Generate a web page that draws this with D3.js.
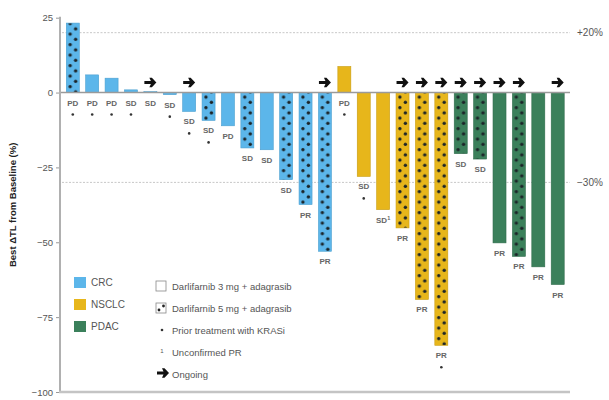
<!DOCTYPE html>
<html>
<head>
<meta charset="utf-8">
<script src="https://cdn.jsdelivr.net/npm/d3@7"></script>
<style>
  body { margin: 0; background: #fff; }
  svg { font-family: "Liberation Sans", Arial, sans-serif; }
</style>
</head>
<body>
<div id="chart"></div>
<script>
// one entry per patient, left to right
var values   = [23.2, 5.9, 4.8, 0.9, 0.3, -0.7, -6.3, -9.3, -11.1, -18.5, -19.1, -29.1, -37.4, -53.0,
                8.7, -28.0, -39.1, -45.2, -69.1, -84.4,
                -20.4, -22.2, -50.2, -54.7, -58.2, -64.1];
var tumor    = ["CRC","CRC","CRC","CRC","CRC","CRC","CRC","CRC","CRC","CRC","CRC","CRC","CRC","CRC",
                "NSCLC","NSCLC","NSCLC","NSCLC","NSCLC","NSCLC",
                "PDAC","PDAC","PDAC","PDAC","PDAC","PDAC"];
var dose     = [5,3,3,3,3,3,3,5,3,5,3,5,5,5, 3,3,3,5,5,5, 5,5,3,5,3,3];
var response = ["PD","PD","PD","SD","SD","SD","SD","SD","PD","SD","SD","SD","PR","PR",
                "PD","SD","SD","PR","PR","PR", "SD","SD","PR","PR","PR","PR"];
var priorKRASi  = [1,1,1,1,0,1,1,1,0,0,0,0,0,0, 1,1,0,0,0,1, 0,0,0,0,0,0];
var unconfirmed = [0,0,0,0,0,0,0,0,0,0,0,0,0,0, 0,0,1,0,0,0, 0,0,0,0,0,0];
var ongoing     = [0,0,0,0,1,0,1,0,0,0,0,0,0,1, 0,0,0,1,1,1, 1,1,1,1,0,1];

var yTicks   = [25, 0, -25, -50, -75, -100];
var refLines = [20, -30];
var refLabels = ["+20%", "\u221230%"];
var tumorTypes = ["CRC", "NSCLC", "PDAC"];
var doseLabels = ["Darlifarnib 3 mg + adagrasib", "Darlifarnib 5 mg + adagrasib"];

var colors = { CRC: "#5cb6ea", NSCLC: "#e7b61b", PDAC: "#3b805b" };
var strokes = { CRC: "#4a9fd0", NSCLC: "#c99d12", PDAC: "#2f6b4b" };

var W = 609, H = 400;
var svg = d3.select("#chart").append("svg").attr("width", W).attr("height", H);
var defs = svg.append("defs");

var idx = d3.range(values.length);
var x = d3.scaleBand().domain(idx).range([63, 567.5]).paddingInner(0.33).paddingOuter(0.17);
var y = d3.scaleLinear().domain([-100, 25]).range([392, 17.7]);

// reference lines
svg.selectAll(".ref").data(refLines).enter().append("line")
  .attr("x1", 62).attr("x2", 570)
  .attr("y1", function (d) { return y(d); }).attr("y2", function (d) { return y(d); })
  .attr("stroke", "#c8c8c8").attr("stroke-width", 1).attr("stroke-dasharray", "2,1.5");
svg.selectAll(".refl").data(refLines).enter().append("text")
  .attr("x", 577).attr("y", function (d) { return y(d) + 3.5; })
  .attr("font-size", 10).attr("fill", "#555")
  .text(function (d, i) { return refLabels[i]; });

// dotted patterns, one per high dose bar so dots line up with the bar
idx.forEach(function (i) {
  if (dose[i] !== 5) return;
  var p = defs.append("pattern").attr("id", "pat" + i)
    .attr("patternUnits", "userSpaceOnUse")
    .attr("x", x(i)).attr("y", 0)
    .attr("width", x.bandwidth()).attr("height", 10.5);
  p.append("rect").attr("width", x.bandwidth()).attr("height", 10.5).attr("fill", colors[tumor[i]]);
  p.append("circle").attr("cx", x.bandwidth() * 0.3).attr("cy", 2.6).attr("r", 1.7).attr("fill", "#1b2428");
  p.append("circle").attr("cx", x.bandwidth() * 0.72).attr("cy", 7.9).attr("r", 1.7).attr("fill", "#1b2428");
});

// bars
svg.selectAll(".bar").data(idx).enter().append("rect")
  .attr("x", function (i) { return x(i); })
  .attr("width", x.bandwidth())
  .attr("y", function (i) { return y(Math.max(0, values[i])); })
  .attr("height", function (i) { return Math.abs(y(values[i]) - y(0)); })
  .attr("fill", function (i) { return dose[i] === 5 ? "url(#pat" + i + ")" : colors[tumor[i]]; })
  .attr("stroke", function (i) { return strokes[tumor[i]]; })
  .attr("stroke-width", 0.6);

// axes lines
svg.append("line").attr("x1", 60).attr("x2", 570).attr("y1", y(0)).attr("y2", y(0))
  .attr("stroke", "#9a9a9a").attr("stroke-width", 1.5);
svg.append("line").attr("x1", 60).attr("x2", 60).attr("y1", y(25) - 1).attr("y2", y(-100))
  .attr("stroke", "#b0b0b0").attr("stroke-width", 2);
svg.append("line").attr("x1", 59).attr("x2", 570).attr("y1", y(-100)).attr("y2", y(-100))
  .attr("stroke", "#c4c4c4").attr("stroke-width", 2.5);

var yAxis = d3.axisLeft(y).tickValues(yTicks).tickSize(3).tickPadding(3)
  .tickFormat(function (d) { return d < 0 ? "\u2212" + Math.abs(d) : d; });
var ya = svg.append("g").attr("transform", "translate(59,0)").call(yAxis);
ya.select(".domain").remove();
ya.selectAll(".tick line").attr("stroke", "#999");
ya.selectAll(".tick text").attr("font-size", 9.5).attr("fill", "#555")
  .attr("font-family", "Liberation Sans, Arial, sans-serif");

svg.append("text")
  .attr("transform", "translate(16," + y(-37.5) + ") rotate(-90)")
  .attr("text-anchor", "middle").attr("font-size", 9.5).attr("font-weight", "bold").attr("fill", "#222")
  .text("Best \u0394TL from Baseline (%)");

// response labels under bars
function labelY(i) { return y(Math.min(0, values[i])) + 13; }
var lab = svg.selectAll(".resp").data(idx).enter().append("text")
  .attr("x", function (i) { return x(i) + x.bandwidth() / 2; })
  .attr("y", labelY)
  .attr("text-anchor", "middle").attr("font-size", 8).attr("font-weight", "bold").attr("fill", "#666");
lab.append("tspan").text(function (i) { return response[i]; });
lab.filter(function (i) { return unconfirmed[i]; }).append("tspan")
  .attr("font-size", 5.5).attr("dy", -3).text("1");

svg.selectAll(".ast").data(idx.filter(function (i) { return priorKRASi[i]; })).enter().append("circle")
  .attr("cx", function (i) { return x(i) + x.bandwidth() / 2; })
  .attr("cy", function (i) { return labelY(i) + 9; })
  .attr("r", 1.3).attr("fill", "#333");

// ongoing arrows
function arrowPath() {
  var p = d3.path();
  p.moveTo(-6, -1.5); p.lineTo(0.5, -1.5); p.lineTo(-1, -4.8); p.lineTo(1.5, -4.8); p.lineTo(6, 0);
  p.lineTo(1.5, 4.8); p.lineTo(-1, 4.8); p.lineTo(0.5, 1.5); p.lineTo(-6, 1.5); p.closePath();
  return p.toString();
}
svg.selectAll(".arr").data(idx.filter(function (i) { return ongoing[i]; })).enter().append("path")
  .attr("transform", function (i) { return "translate(" + (x(i) + x.bandwidth() / 2) + "," + (y(0) - 10) + ")"; })
  .attr("d", arrowPath()).attr("fill", "#111");

// legend: tumour types
var lg1 = svg.append("g");
tumorTypes.forEach(function (t, k) {
  var yy = 277 + k * 22;
  lg1.append("rect").attr("x", 74).attr("y", yy).attr("width", 12).attr("height", 11).attr("fill", colors[t]);
  lg1.append("text").attr("x", 91).attr("y", yy + 9).attr("font-size", 10).attr("fill", "#555").text(t);
});

// legend: dose, symbols
var lg2 = svg.append("g");
doseLabels.forEach(function (t, k) {
  var yy = 281 + k * 22;
  lg2.append("rect").attr("x", 156).attr("y", yy).attr("width", 10).attr("height", 10)
    .attr("fill", "#fff").attr("stroke", "#888").attr("stroke-width", 0.8);
  if (k === 1) {
    lg2.append("circle").attr("cx", 159).attr("cy", yy + 7).attr("r", 1.4).attr("fill", "#222");
    lg2.append("circle").attr("cx", 163.5).attr("cy", yy + 3).attr("r", 1.4).attr("fill", "#222");
  }
  lg2.append("text").attr("x", 172).attr("y", yy + 8.5).attr("font-size", 9.5).attr("fill", "#555").text(t);
});
lg2.append("circle").attr("cx", 162).attr("cy", 330).attr("r", 1.3).attr("fill", "#333");
lg2.append("text").attr("x", 172).attr("y", 333.5).attr("font-size", 9.5).attr("fill", "#555").text("Prior treatment with KRASi");
lg2.append("text").attr("x", 162).attr("y", 353).attr("text-anchor", "middle").attr("font-size", 6).attr("fill", "#555").text("1");
lg2.append("text").attr("x", 172).attr("y", 355.5).attr("font-size", 9.5).attr("fill", "#555").text("Unconfirmed PR");
lg2.append("path").attr("transform", "translate(163,373)").attr("d", arrowPath()).attr("fill", "#111");
lg2.append("text").attr("x", 172).attr("y", 377.5).attr("font-size", 9.5).attr("fill", "#555").text("Ongoing");
</script>
</body>
</html>
